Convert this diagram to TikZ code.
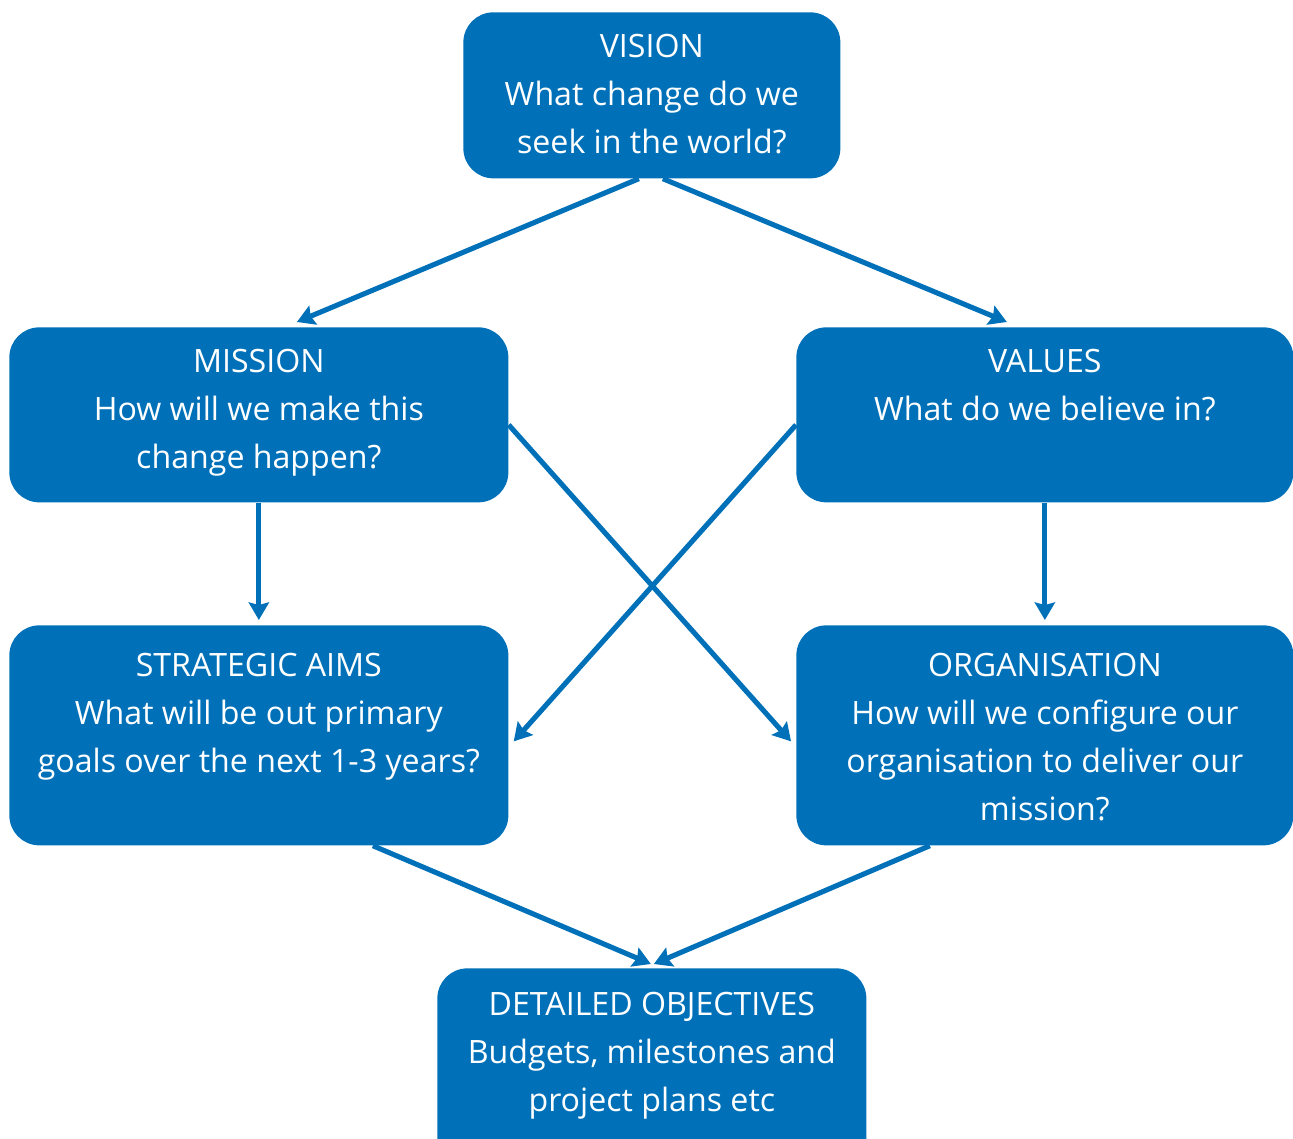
\documentclass[tikz,border=0pt]{standalone}
\usepackage{fontspec}
\setmainfont{Open Sans}
\usetikzlibrary{calc,arrows.meta}
\definecolor{cblue}{RGB}{0,113,185}
\tikzset{
  box/.style={fill=cblue, draw=none, rounded corners=0.6cm, anchor=north west, inner sep=0pt},
  txt/.style={text=white, align=center, anchor=north, inner sep=0pt,
    font=\fontsize{18.3}{27.3}\selectfont},
  conn/.style={draw=cblue, line width=2.9pt, -{Stealth[length=10pt,width=11.5pt,inset=1.5pt]}}
}
\begin{document}
\begin{tikzpicture}[x=0.02cm,y=-0.02cm]
\useasboundingbox (0,0) rectangle (1293,1138);
\begin{scope}
\clip (0,0) rectangle (1293,1138);
\node[box, minimum width=377*0.02cm, minimum height=166*0.02cm] (vision) at (463,12) {};
\node[box, minimum width=499*0.02cm, minimum height=175*0.02cm] (mission) at (9,327) {};
\node[box, minimum width=497*0.02cm, minimum height=175*0.02cm] (values) at (796,327) {};
\node[box, minimum width=499*0.02cm, minimum height=220*0.02cm] (aims) at (9,625) {};
\node[box, minimum width=497*0.02cm, minimum height=220*0.02cm] (org) at (796,625) {};
\node[box, minimum width=429*0.02cm, minimum height=200*0.02cm] (detail) at (437,968) {};
\end{scope}

\node[txt] (visiont) at ($(vision.north)+(0,22)$) {VISION\\What change do we\\seek in the world?};
\node[txt] (missiont) at ($(mission.north)+(0,22)$) {MISSION\\How will we make this\\change happen?};
\node[txt] (valuest) at ($(values.north)+(0,22)$) {VALUES\\What do we believe in?};
\node[txt] (aimst) at ($(aims.north)+(0,28)$) {STRATEGIC AIMS\\What will be out primary\\goals over the next 1-3 years?};
\node[txt] (orgt) at ($(org.north)+(0,28)$) {ORGANISATION\\How will we configure our\\organisation to deliver our\\mission?};
\node[txt] (detailt) at ($(detail.north)+(0,24)$) {DETAILED OBJECTIVES\\Budgets, milestones and\\project plans etc};

\draw[conn] ($(vision.south)+(-13,0)$) -- ($(mission.north)+(38,-5)$);
\draw[conn] ($(vision.south)+(11,0)$) -- ($(values.north)+(-38,-5)$);
\draw[conn] (mission.south) -- ($(mission.north)+(0,293)$);
\draw[conn] (values.south) -- ($(values.north)+(0,293)$);
\draw[conn] ($(mission.east)+(0,10)$) -- ($(org.west)+(-5,6)$);
\draw[conn] ($(values.west)+(0,10)$) -- ($(aims.east)+(5,6)$);
\draw[conn] ($(aims.south)+(114,0)$) -- ($(detail.north)+(-1,-4)$);
\draw[conn] ($(org.south)+(-115,0)$) -- ($(detail.north)+(2,-4)$);
\end{tikzpicture}
\end{document}
